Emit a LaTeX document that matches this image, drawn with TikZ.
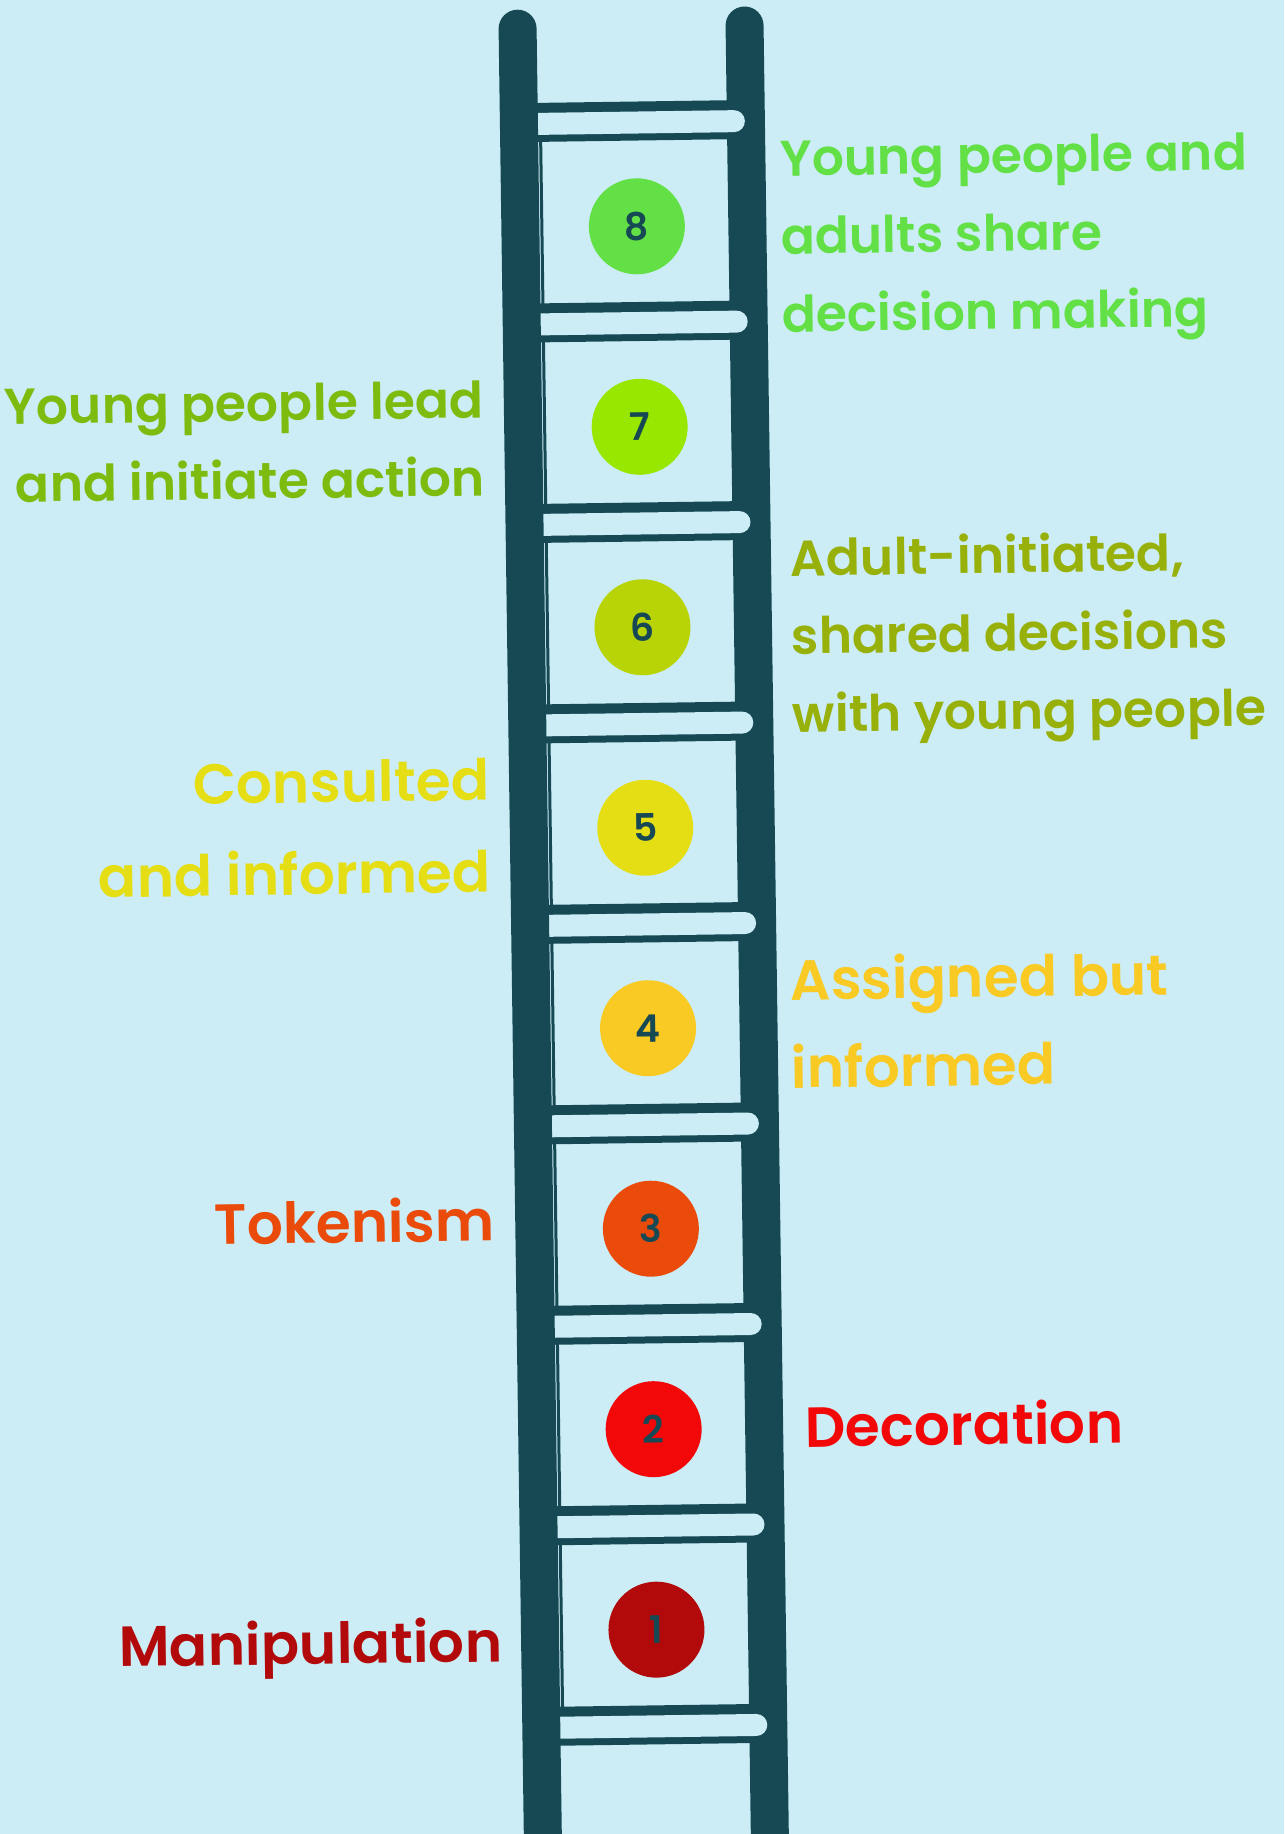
\documentclass[tikz,border=0pt]{standalone}
\usepackage{fontspec}
\setmainfont{Poppins}[BoldFont=* SemiBold]
\usepackage{tikz}

\definecolor{bg}{HTML}{CCEDF6}
\definecolor{ladder}{HTML}{164954}
\definecolor{c8}{HTML}{62E046}
\definecolor{c7}{HTML}{97E700}
\definecolor{t7}{HTML}{7DBB0E}
\definecolor{c6}{HTML}{B8D407}
\definecolor{t6}{HTML}{97B10A}
\definecolor{c5}{HTML}{E6DE14}
\definecolor{c4}{HTML}{F9CA24}
\definecolor{c3}{HTML}{EA4A0A}
\definecolor{c2}{HTML}{F20808}
\definecolor{c1}{HTML}{B20A0A}

\tikzset{
	rail/.style={ladder, line width=19pt, line cap=round},
	rungedge/.style={ladder, line width=19.5pt},
	rungface/.style={bg, line width=11pt, line cap=round},
	numdot/.style={circle, minimum size=48pt, inner sep=0pt, text=ladder,
		font=\fontsize{19}{19}\selectfont\bfseries},
	smalltext/.style={inner sep=0pt, font=\fontsize{25.2}{39}\selectfont\bfseries},
	bigtext/.style={inner sep=0pt, font=\fontsize{28.3}{46}\selectfont\bfseries}
}

\begin{document}
\begin{tikzpicture}[x=0.5pt, y=-0.5pt]
			\useasboundingbox (0,0) rectangle (1284,1834);
			\clip (0,0) rectangle (1284,1834);
			\fill[bg] (0,0) rectangle (1284,1834);
			\begin{scope}[rotate around={0.8:(642,917)}, transform shape]
			\draw[rail] (757,27) -- (757,1890);
			\draw[ladder, line width=1.5pt] (551.5,121) -- (551.5,1725);
			\foreach \y in {121, 321.5, ..., 1726} {
				\draw[rungedge] (530,\y) -- (757,\y);
				\draw[rungface] (549,\y+1.5) -- (745,\y+1.5);
			}
			\draw[rail] (530,27) -- (530,1890);
			% numbered steps
			\node[numdot, fill=c8] (n8) at (646.5,226.3) {8};
			\node[numdot, fill=c7] (n7) at (646.5,426.8) {7};
			\node[numdot, fill=c6] (n6) at (646.5,627.3) {6};
			\node[numdot, fill=c5] (n5) at (646.5,827.8) {5};
			\node[numdot, fill=c4] (n4) at (646.5,1028.3) {4};
			\node[numdot, fill=c3] (n3) at (646.5,1228.8) {3};
			\node[numdot, fill=c2] (n2) at (646.5,1429.3) {2};
			\node[numdot, fill=c1] (n1) at (646.5,1629.8) {1};
			% labels (base = last line)
			\node[smalltext, text=c8, anchor=base west, align=left] (l8) at (790,334.2)
				{Young people and\\adults share\\decision making};
			\node[smalltext, text=t7, anchor=base east, align=right] (l7) at (491,493.6)
				{Young people lead\\and initiate action};
			\node[smalltext, text=t6, anchor=base west, align=left] (l6) at (795,734.2)
				{Adult-initiated,\\shared decisions\\with young people};
			\node[bigtext, text=c5, anchor=base east, align=right] (l5) at (491.5,890)
				{Consulted\\and informed};
			\node[bigtext, text=c4, anchor=base west, align=left,
				font=\fontsize{28.3}{44}\selectfont\bfseries] (l4) at (789,1090.2)
				{Assigned but\\informed};
			\node[bigtext, text=c3, anchor=base east] (l3) at (490.5,1238.9) {Tokenism};
			\node[bigtext, text=c2, anchor=base west] (l2) at (797.5,1449.5) {Decoration};
			\node[bigtext, text=c1, anchor=base east] (l1) at (492.5,1659.5) {Manipulation};
			\end{scope}
		\end{tikzpicture}
\end{document}
